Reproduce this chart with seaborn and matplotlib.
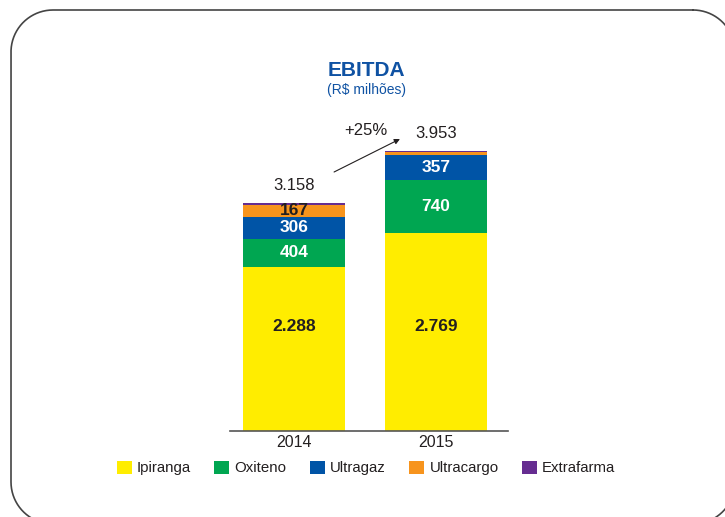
import matplotlib
matplotlib.use("Agg")
import matplotlib.pyplot as plt
import matplotlib.patches as mpatches
import numpy as np
import pandas as pd
import seaborn as sns

years = ["2014", "2015"]
segments = ["Ipiranga", "Oxiteno", "Ultragaz", "Ultracargo", "Extrafarma"]
ipiranga = [2288, 2769]
oxiteno = [404, 740]
ultragaz = [306, 357]
ultracargo = [167, 30]
extrafarma = [20, 20]
totals = ["3.158", "3.953"]
labels = {
    "Ipiranga": ["2.288", "2.769"],
    "Oxiteno": ["404", "740"],
    "Ultragaz": ["306", "357"],
    "Ultracargo": ["167", ""],
    "Extrafarma": ["", ""],
}
growth = "+25%"

colors = {"Ipiranga": "#FFED00", "Oxiteno": "#00A651", "Ultragaz": "#0054A6",
          "Ultracargo": "#F7941D", "Extrafarma": "#662D91"}
label_colors = {"Ipiranga": "#231F20", "Oxiteno": "white", "Ultragaz": "white",
                "Ultracargo": "#231F20", "Extrafarma": "white"}
IPIRANGA_LABEL_Y = 1455  # labels of the base segment sit at a common height

sns.set_style("white")
plt.rcParams["font.family"] = ["Liberation Sans", "DejaVu Sans"]

values = {"Ipiranga": ipiranga, "Oxiteno": oxiteno, "Ultragaz": ultragaz,
          "Ultracargo": ultracargo, "Extrafarma": extrafarma}
df = pd.DataFrame(values, index=years)
cum = df.cumsum(axis=1)

W, H = 725, 517
PX = 0.0715  # pixels per unit
fig = plt.figure(figsize=(W / 100, H / 100), dpi=100)

# background frame axes in pixel coords (y measured downward)
bg = fig.add_axes([0, 0, 1, 1], zorder=-1)
bg.set_xlim(0, W)
bg.set_ylim(H, 0)
bg.axis("off")


def rounded_rect(x0, y0, x1, y1, r, n=40):
    pts = []
    corners = [((x1 - r, y0 + r), -90, 0), ((x1 - r, y1 - r), 0, 90),
               ((x0 + r, y1 - r), 90, 180), ((x0 + r, y0 + r), 180, 270)]
    for (cx, cy), a0, a1 in corners:
        a = np.radians(np.linspace(a0, a1, n))
        pts.append(np.column_stack([cx + r * np.cos(a), cy + r * np.sin(a)]))
    pts = np.vstack(pts)
    return np.vstack([pts, pts[:1]])


fr = rounded_rect(11, 10, 735, 524, 42)
bg.plot(fr[:, 0], fr[:, 1], color="#444444", lw=1.2, clip_on=False)

ax = fig.add_axes([230 / W, (H - 431) / H, (508 - 230) / W, (431 - 100) / H])
ax.patch.set_alpha(0)

# overlay cumulative bars, tallest first
for seg in reversed(segments):
    sns.barplot(x=years, y=cum[seg].values, color=colors[seg], width=0.72,
                saturation=1, ax=ax, linewidth=0, edgecolor="none")

ax.set_xlim(-0.451, 1.507)
ax.set_ylim(0, (431 - 100) / PX)
for s in ["top", "left", "right"]:
    ax.spines[s].set_visible(False)
ax.spines["bottom"].set_color("#555555")
ax.spines["bottom"].set_linewidth(1.2)
ax.set_yticks([])
ax.tick_params(axis="x", length=0, labelsize=11.5, labelcolor="#231F20", pad=3)
ax.set_ylabel("")
ax.set_xlabel("")

# segment labels
for seg in segments:
    for i, yr in enumerate(years):
        txt = labels[seg][i]
        if not txt:
            continue
        bottom = cum[seg].iloc[i] - df[seg].iloc[i]
        y = IPIRANGA_LABEL_Y if seg == "Ipiranga" else bottom + df[seg].iloc[i] / 2
        ax.text(i, y, txt, ha="center", va="center",
                fontsize=12.5, fontweight="bold", color=label_colors[seg])

# totals
for i, t in enumerate(totals):
    top = cum["Extrafarma"].iloc[i]
    ax.text(i, top + 250, t, ha="center", va="center", fontsize=12, color="#231F20")

# growth arrow
ax.annotate("", xy=(0.746, (431 - 139) / PX), xytext=(0.282, (431 - 172) / PX),
            arrowprops=dict(arrowstyle="-|>", color="#231F20", lw=0.8,
                            mutation_scale=8, shrinkA=0, shrinkB=0))
ax.text(0.507, (431 - 130) / PX, growth, ha="center", va="center",
        fontsize=12, color="#231F20")

# titles
fig.text(366 / W, 1 - 70 / H, "EBITDA", ha="center", va="center", fontsize=15,
         fontweight="bold", color="#0F52A3")
fig.text(366 / W, 1 - 90 / H, "(R$ milhões)", ha="center", va="center",
         fontsize=10, color="#0F52A3")

# legend
handles = [mpatches.Patch(facecolor=colors[s], edgecolor="none", label=s) for s in segments]
fig.legend(handles=handles, loc="center", bbox_to_anchor=(366 / W, 1 - 468 / H),
           ncol=5, frameon=False, fontsize=10.8, handlelength=1.0, handleheight=1.0,
           handletextpad=0.35, columnspacing=1.55, labelcolor="#231F20")

fig.savefig("out.png", dpi=100)
